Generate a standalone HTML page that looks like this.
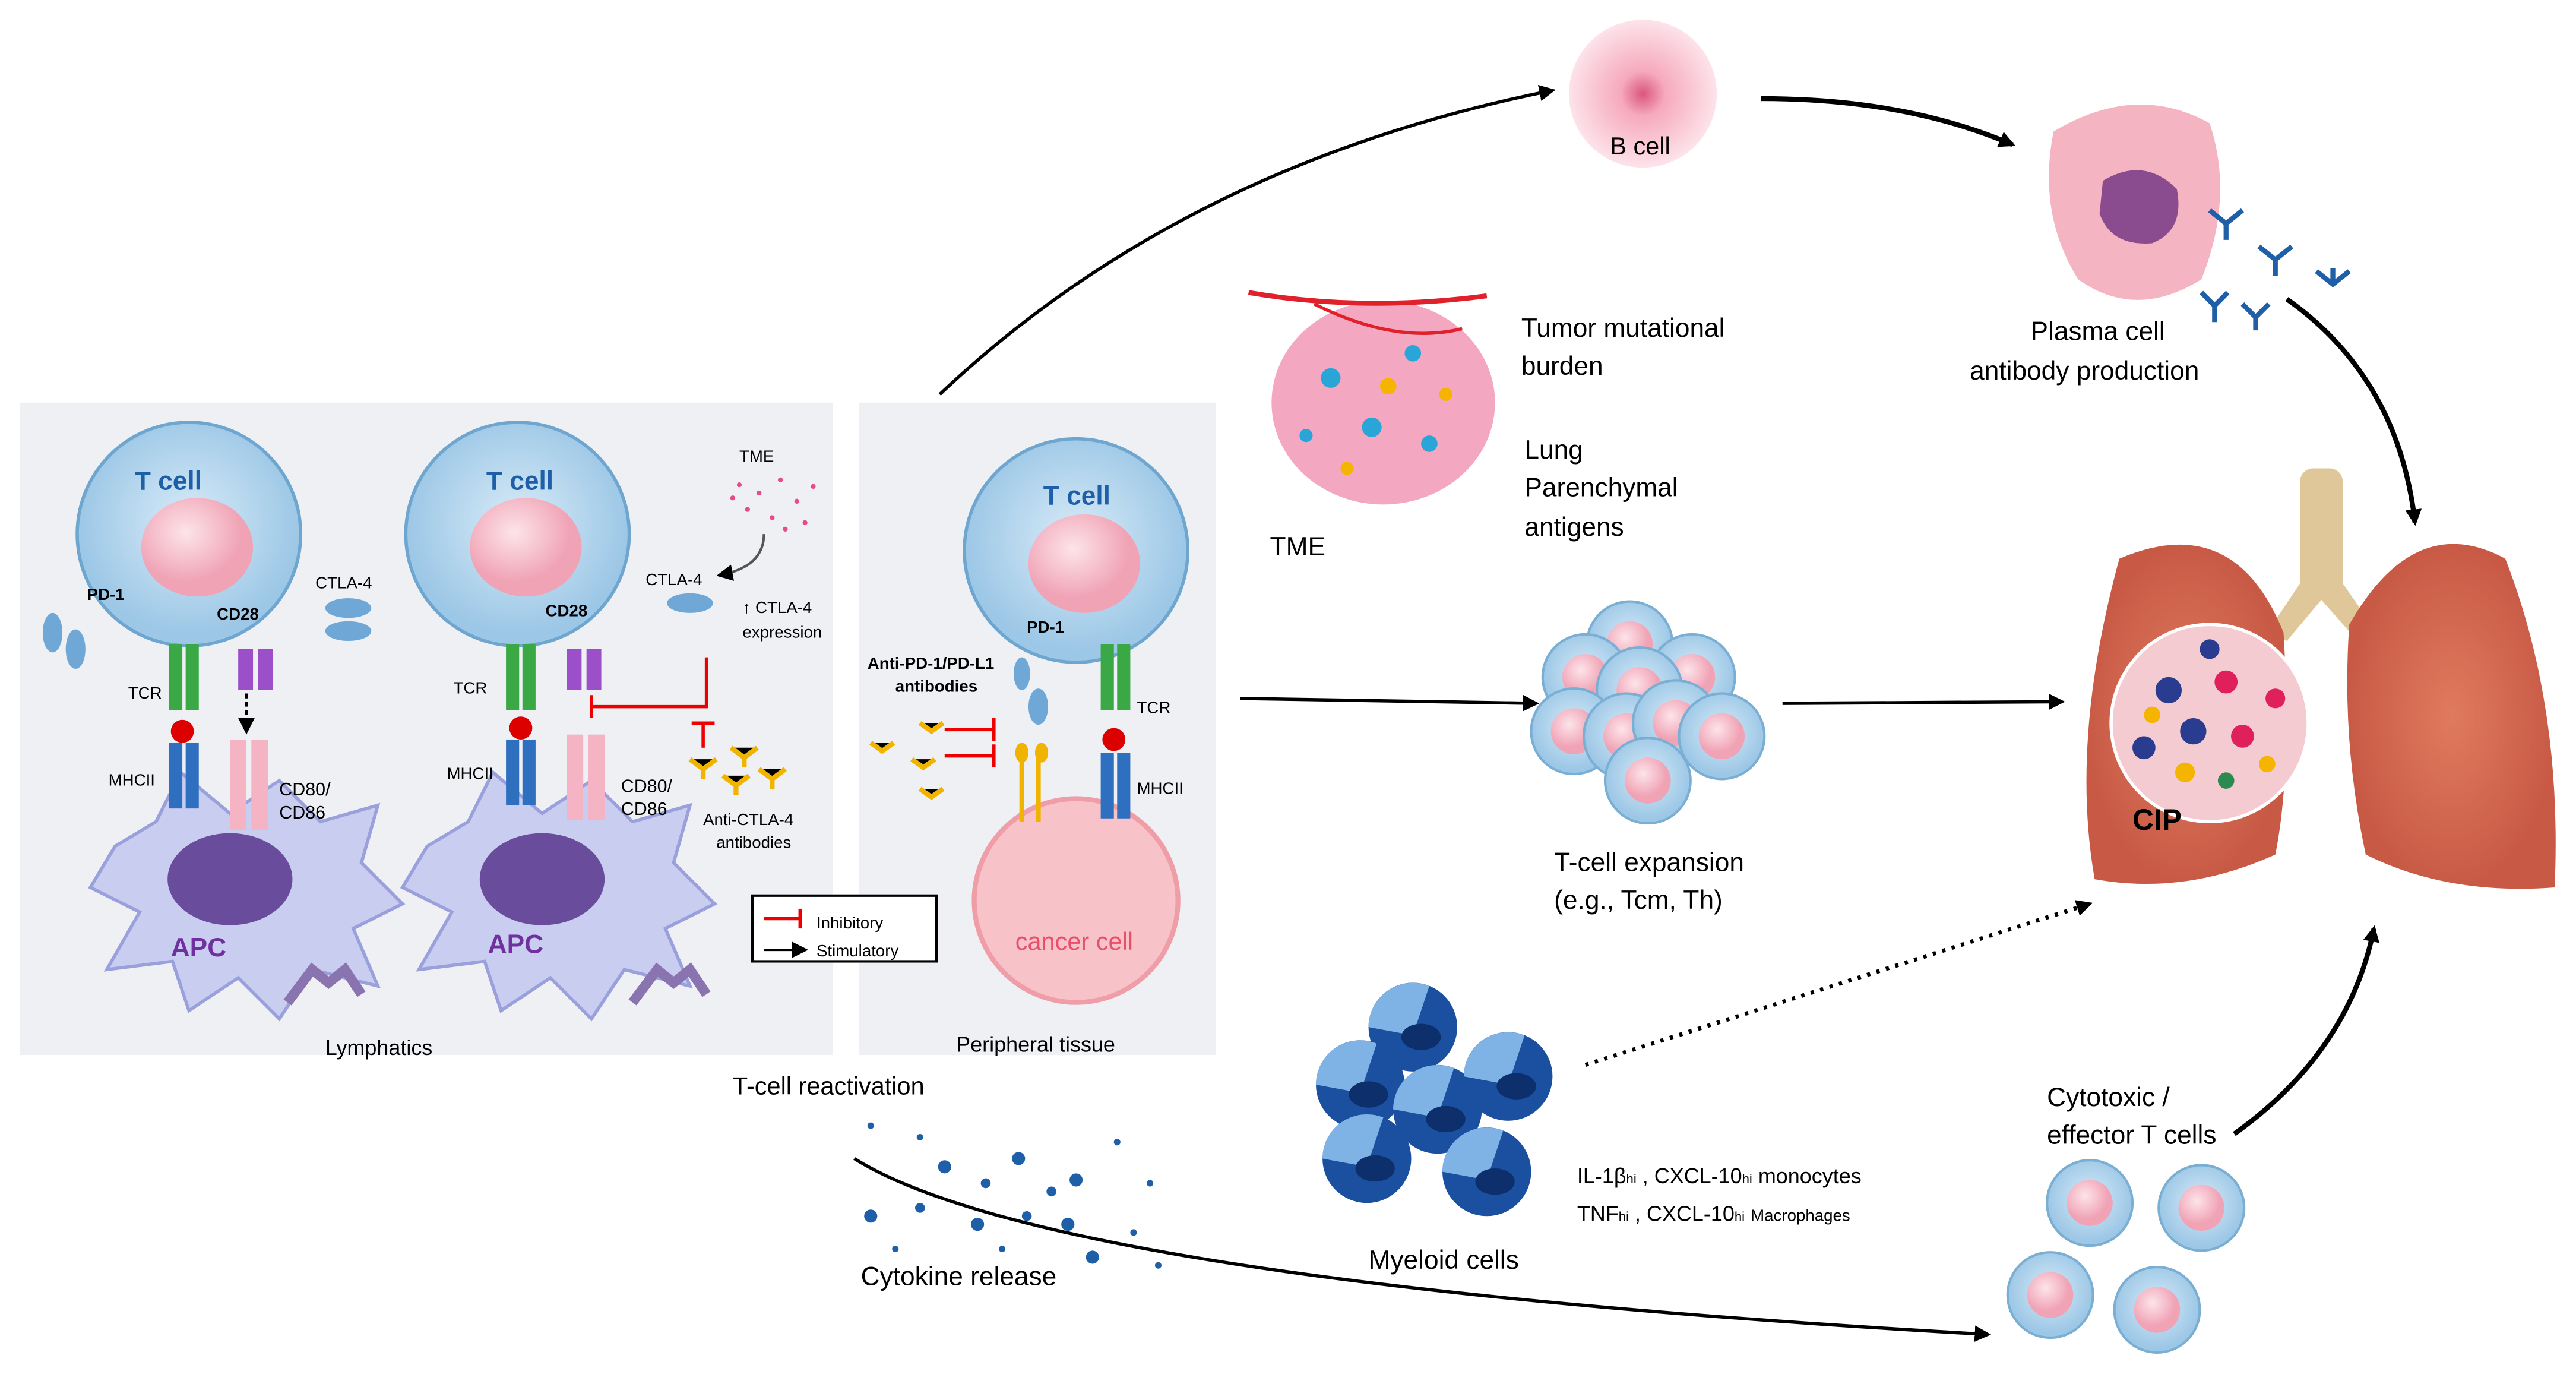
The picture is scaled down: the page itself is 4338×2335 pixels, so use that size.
<!DOCTYPE html>
<html><head><meta charset="utf-8"><style>
html,body{margin:0;padding:0;background:#fff;}
svg{display:block;}
text{font-family:"Liberation Sans",sans-serif;}
</style></head><body>
<svg width="4338" height="2335" viewBox="0 0 1568 844" preserveAspectRatio="none" xmlns="http://www.w3.org/2000/svg">
<defs>
<marker id="ah" markerWidth="10" markerHeight="10" refX="8" refY="5" orient="auto" markerUnits="userSpaceOnUse"><path d="M0,0 L10,5 L0,10 z" fill="#000"/></marker>
<radialGradient id="tc" cx="50%" cy="45%"><stop offset="0" stop-color="#d8ebf8"/><stop offset="1" stop-color="#9cc7e6"/></radialGradient>
<radialGradient id="nuc" cx="40%" cy="35%"><stop offset="0" stop-color="#fde4ea"/><stop offset="1" stop-color="#f0a3b5"/></radialGradient>
<radialGradient id="pk" cx="50%" cy="50%"><stop offset="0" stop-color="#d9567e"/><stop offset="0.3" stop-color="#f6a9bd"/><stop offset="1" stop-color="#fde3ea"/></radialGradient>
<radialGradient id="lung" cx="50%" cy="50%"><stop offset="0" stop-color="#e07a5f"/><stop offset="1" stop-color="#c85a45"/></radialGradient>
<g id="smallT"><circle r="26" fill="url(#tc)" stroke="#7aaed3" stroke-width="1.5"/><circle r="14" fill="url(#nuc)"/></g>
<g id="myel"><circle r="27" fill="#1b4fa0"/><path d="M-27,0 A27,27 0 0 1 10,-25 L0,5 Z" fill="#7fb2e5"/><ellipse cx="5" cy="6" rx="12" ry="8" fill="#0d2f6b"/></g>
<g id="apc"><path d="M-80,-30 L-55,-45 L-40,-75 L-10,-50 L20,-70 L45,-45 L80,-55 L70,-20 L95,5 L65,20 L80,55 L40,45 L20,75 L-5,50 L-35,70 L-45,40 L-85,45 L-65,10 L-95,-5 Z" fill="#c9cdf0" stroke="#9aa0dc" stroke-width="2"/><ellipse cx="-10" cy="-10" rx="38" ry="28" fill="#6a4c9c"/></g>
<g id="bigT"><circle r="68" fill="url(#tc)" stroke="#6ea6cf" stroke-width="2"/><ellipse cx="5" cy="8" rx="34" ry="30" fill="url(#nuc)"/></g>
</defs>

<!-- panels -->
<rect x="12" y="245" width="495" height="397" fill="#eef0f4"/>
<rect x="523" y="245" width="217" height="397" fill="#eef0f4"/>

<!-- left panel cell 1 -->
<use href="#apc" x="150" y="545"/>
<use href="#bigT" x="115" y="325"/>
<text x="82" y="298" font-size="16" font-weight="bold" fill="#1f5fa8">T cell</text>
<text x="53" y="365" font-size="10" font-weight="bold">PD-1</text>
<text x="132" y="377" font-size="10" font-weight="bold">CD28</text>
<text x="192" y="358" font-size="10">CTLA-4</text>
<ellipse cx="212" cy="370" rx="14" ry="6" fill="#6fa8d6"/><ellipse cx="212" cy="384" rx="14" ry="6" fill="#6fa8d6"/>
<ellipse cx="32" cy="385" rx="6" ry="12" fill="#6fa8d6"/><ellipse cx="46" cy="395" rx="6" ry="12" fill="#6fa8d6"/>
<rect x="103" y="392" width="8" height="40" fill="#3aa845"/><rect x="113" y="392" width="8" height="40" fill="#3aa845"/>
<circle cx="111" cy="445" r="7" fill="#d00"/>
<rect x="103" y="452" width="8" height="40" fill="#2f6fbf"/><rect x="113" y="452" width="8" height="40" fill="#2f6fbf"/>
<rect x="145" y="395" width="9" height="25" fill="#9b4fc8"/><rect x="157" y="395" width="9" height="25" fill="#9b4fc8"/>
<rect x="140" y="450" width="10" height="55" fill="#f4b4c4"/><rect x="153" y="450" width="10" height="55" fill="#f4b4c4"/>
<line x1="150" y1="422" x2="150" y2="445" stroke="#000" stroke-dasharray="3,2" stroke-width="1.5" marker-end="url(#ah)"/>
<text x="78" y="425" font-size="10">TCR</text>
<text x="66" y="478" font-size="10">MHCII</text>
<text x="170" y="484" font-size="11">CD80/</text><text x="170" y="498" font-size="11">CD86</text>
<text x="104" y="582" font-size="16" font-weight="bold" fill="#7030a0">APC</text>
<path d="M175,610 L190,590 L200,598 L210,590 L220,605" stroke="#8a74b0" stroke-width="6" fill="none"/>

<!-- left panel cell 2 -->
<use href="#apc" x="340" y="545"/>
<use href="#bigT" x="315" y="325"/>
<text x="296" y="298" font-size="16" font-weight="bold" fill="#1f5fa8">T cell</text>
<text x="332" y="375" font-size="10" font-weight="bold">CD28</text>
<text x="393" y="356" font-size="10">CTLA-4</text>
<ellipse cx="420" cy="367" rx="14" ry="6" fill="#6fa8d6"/>
<rect x="308" y="392" width="8" height="40" fill="#3aa845"/><rect x="318" y="392" width="8" height="40" fill="#3aa845"/>
<circle cx="317" cy="443" r="7" fill="#d00"/>
<rect x="308" y="450" width="8" height="40" fill="#2f6fbf"/><rect x="318" y="450" width="8" height="40" fill="#2f6fbf"/>
<rect x="345" y="395" width="9" height="25" fill="#9b4fc8"/><rect x="357" y="395" width="9" height="25" fill="#9b4fc8"/>
<rect x="345" y="447" width="10" height="52" fill="#f4b4c4"/><rect x="358" y="447" width="10" height="52" fill="#f4b4c4"/>
<text x="276" y="422" font-size="10">TCR</text>
<text x="272" y="474" font-size="10">MHCII</text>
<text x="378" y="482" font-size="11">CD80/</text><text x="378" y="496" font-size="11">CD86</text>
<text x="297" y="580" font-size="16" font-weight="bold" fill="#7030a0">APC</text>
<path d="M385,610 L400,590 L410,598 L420,590 L430,605" stroke="#8a74b0" stroke-width="6" fill="none"/>
<text x="450" y="281" font-size="10">TME</text>
<g fill="#e84a8a"><circle cx="450" cy="295" r="1.5"/><circle cx="462" cy="300" r="1.5"/><circle cx="475" cy="292" r="1.5"/><circle cx="485" cy="305" r="1.5"/><circle cx="455" cy="310" r="1.5"/><circle cx="470" cy="315" r="1.5"/><circle cx="490" cy="318" r="1.5"/><circle cx="478" cy="322" r="1.5"/><circle cx="446" cy="303" r="1.5"/><circle cx="495" cy="296" r="1.5"/></g>
<path d="M465,325 Q465,345 438,350" stroke="#555" fill="none" stroke-width="1.5" marker-end="url(#ah)"/>
<text x="452" y="373" font-size="10">↑ CTLA-4</text><text x="452" y="388" font-size="10">expression</text>
<path d="M430,400 L430,430 L360,430" stroke="#e00" stroke-width="2" fill="none"/><line x1="360" y1="423" x2="360" y2="437" stroke="#e00" stroke-width="2"/>
<line x1="428" y1="440" x2="428" y2="455" stroke="#e00" stroke-width="2"/><line x1="421" y1="440" x2="435" y2="440" stroke="#e00" stroke-width="2"/>
<g stroke="#f0b400" stroke-width="3"><path d="M420,462 l8,6 l8,-6 M428,468 v6"/><path d="M445,455 l8,6 l8,-6 M453,461 v6"/><path d="M440,472 l8,6 l8,-6 M448,478 v6"/><path d="M462,468 l8,6 l8,-6 M470,474 v6"/></g>
<text x="428" y="502" font-size="10">Anti-CTLA-4</text><text x="436" y="516" font-size="10">antibodies</text>
<rect x="458" y="545" width="112" height="40" fill="#fff" stroke="#000" stroke-width="1.5"/>
<line x1="465" y1="559" x2="487" y2="559" stroke="#e00" stroke-width="2"/><line x1="487" y1="553" x2="487" y2="565" stroke="#e00" stroke-width="2"/>
<text x="497" y="565" font-size="10">Inhibitory</text>
<line x1="465" y1="578" x2="490" y2="578" stroke="#000" stroke-width="1.5" marker-end="url(#ah)"/>
<text x="497" y="582" font-size="10">Stimulatory</text>
<text x="198" y="642" font-size="13">Lymphatics</text>

<!-- middle panel -->
<circle cx="655" cy="548" r="62" fill="#f7c3c8" stroke="#ef9ea8" stroke-width="3"/>
<text x="618" y="578" font-size="15" fill="#e8506a">cancer cell</text>
<use href="#bigT" x="655" y="335"/>
<text x="635" y="307" font-size="16" font-weight="bold" fill="#1f5fa8">T cell</text>
<text x="625" y="385" font-size="10" font-weight="bold">PD-1</text>
<ellipse cx="622" cy="410" rx="5" ry="10" fill="#6fa8d6"/><ellipse cx="632" cy="430" rx="6" ry="11" fill="#6fa8d6"/>
<rect x="670" y="392" width="8" height="40" fill="#3aa845"/><rect x="680" y="392" width="8" height="40" fill="#3aa845"/>
<circle cx="678" cy="450" r="7" fill="#d00"/>
<rect x="670" y="458" width="8" height="40" fill="#2f6fbf"/><rect x="680" y="458" width="8" height="40" fill="#2f6fbf"/>
<text x="692" y="434" font-size="10">TCR</text><text x="692" y="483" font-size="10">MHCII</text>
<path d="M622,460 v40 M632,460 v40" stroke="#f0b400" stroke-width="3"/>
<ellipse cx="622" cy="458" rx="4" ry="6" fill="#f0b400"/><ellipse cx="634" cy="458" rx="4" ry="6" fill="#f0b400"/>
<text x="528" y="407" font-size="10" font-weight="bold">Anti-PD-1/PD-L1</text><text x="545" y="421" font-size="10" font-weight="bold">antibodies</text>
<line x1="575" y1="444" x2="605" y2="444" stroke="#e00" stroke-width="2"/><line x1="605" y1="437" x2="605" y2="451" stroke="#e00" stroke-width="2"/>
<line x1="575" y1="460" x2="605" y2="460" stroke="#e00" stroke-width="2"/><line x1="605" y1="453" x2="605" y2="467" stroke="#e00" stroke-width="2"/>
<g stroke="#f0b400" stroke-width="3"><path d="M530,452 l7,5 l7,-5"/><path d="M560,440 l7,5 l7,-5"/><path d="M555,462 l7,5 l7,-5"/><path d="M560,480 l7,5 l7,-5"/></g>
<text x="582" y="640" font-size="13">Peripheral tissue</text>
<text x="446" y="666" font-size="15">T-cell reactivation</text>

<!-- arrows -->
<path d="M572,240 Q720,100 945,55" stroke="#000" stroke-width="2" fill="none" marker-end="url(#ah)"/>
<path d="M1072,60 Q1160,60 1225,88" stroke="#000" stroke-width="3" fill="none" marker-end="url(#ah)"/>
<path d="M1392,182 Q1460,230 1470,318" stroke="#000" stroke-width="3" fill="none" marker-end="url(#ah)"/>
<line x1="755" y1="425" x2="935" y2="428" stroke="#000" stroke-width="2" marker-end="url(#ah)"/>
<line x1="1085" y1="428" x2="1255" y2="427" stroke="#000" stroke-width="2" marker-end="url(#ah)"/>
<line x1="965" y1="648" x2="1272" y2="550" stroke="#000" stroke-width="2.5" stroke-dasharray="2,4" marker-end="url(#ah)"/>
<path d="M1360,690 Q1430,640 1445,565" stroke="#000" stroke-width="3" fill="none" marker-end="url(#ah)"/>
<path d="M520,705 Q640,780 1210,812" stroke="#000" stroke-width="2" fill="none" marker-end="url(#ah)"/>

<!-- B cell -->
<circle cx="1000" cy="57" r="45" fill="url(#pk)"/>
<text x="980" y="94" font-size="15">B cell</text>
<!-- plasma cell -->
<path d="M1250,80 Q1300,50 1345,75 Q1360,120 1340,170 Q1300,195 1265,170 Q1240,130 1250,80 Z" fill="#f4b4c2"/>
<path d="M1280,110 Q1305,95 1325,115 Q1330,140 1310,148 Q1285,150 1278,130 Z" fill="#8a4c8f"/>
<g stroke="#1f5fa8" stroke-width="3" fill="none"><path d="M1345,128 l10,8 l10,-8 M1355,136 v10"/><path d="M1375,150 l10,8 l10,-8 M1385,158 v10"/><path d="M1340,178 l8,8 l8,-8 M1348,186 v10"/><path d="M1410,165 l10,8 l10,-8 M1420,173 v-10"/><path d="M1365,185 l8,8 l8,-8 M1373,193 v8"/></g>
<text x="1236" y="207" font-size="16">Plasma cell</text>
<text x="1199" y="231" font-size="16">antibody production</text>

<!-- TME -->
<ellipse cx="842" cy="245" rx="68" ry="62" fill="#f4a7c0"/>
<g><circle cx="810" cy="230" r="6" fill="#2aa5d8"/><circle cx="860" cy="215" r="5" fill="#2aa5d8"/><circle cx="835" cy="260" r="6" fill="#2aa5d8"/><circle cx="870" cy="270" r="5" fill="#2aa5d8"/><circle cx="795" cy="265" r="4" fill="#2aa5d8"/><circle cx="845" cy="235" r="5" fill="#f5b400"/><circle cx="880" cy="240" r="4" fill="#f5b400"/><circle cx="820" cy="285" r="4" fill="#f5b400"/></g>
<path d="M760,178 Q830,190 905,180" stroke="#e0202a" stroke-width="3" fill="none"/>
<path d="M800,185 Q850,210 890,200" stroke="#e0202a" stroke-width="2" fill="none"/>
<text x="773" y="338" font-size="16">TME</text>
<text x="926" y="205" font-size="16">Tumor mutational</text><text x="926" y="228" font-size="16">burden</text>
<text x="928" y="279" font-size="16">Lung</text><text x="928" y="302" font-size="16">Parenchymal</text><text x="928" y="326" font-size="16">antigens</text>

<!-- T cell cluster -->
<use href="#smallT" x="992" y="392"/><use href="#smallT" x="965" y="412"/><use href="#smallT" x="1030" y="412"/><use href="#smallT" x="998" y="420"/><use href="#smallT" x="958" y="445"/><use href="#smallT" x="990" y="448"/><use href="#smallT" x="1020" y="440"/><use href="#smallT" x="1048" y="448"/><use href="#smallT" x="1003" y="475"/>
<text x="946" y="530" font-size="16">T-cell expansion</text>
<text x="946" y="553" font-size="16">(e.g., Tcm, Th)</text>

<!-- lungs -->
<rect x="1400" y="285" width="26" height="80" rx="8" fill="#e0c79a"/>
<path d="M1400,355 L1380,385 L1392,390 L1413,365 L1435,390 L1447,385 L1426,355 Z" fill="#e0c79a"/>
<path d="M1290,340 Q1360,310 1390,385 Q1395,470 1385,520 Q1330,545 1275,535 Q1260,450 1290,340 Z" fill="url(#lung)"/>
<path d="M1430,380 Q1470,310 1525,340 Q1560,430 1555,540 Q1490,545 1440,520 Q1425,450 1430,380 Z" fill="url(#lung)"/>
<circle cx="1345" cy="440" r="60" fill="#f3cbd0" stroke="#fff" stroke-width="2"/>
<g><circle cx="1320" cy="420" r="8" fill="#2a3c8f"/><circle cx="1355" cy="415" r="7" fill="#e0205a"/><circle cx="1335" cy="445" r="8" fill="#2a3c8f"/><circle cx="1305" cy="455" r="7" fill="#2a3c8f"/><circle cx="1365" cy="448" r="7" fill="#e0205a"/><circle cx="1385" cy="425" r="6" fill="#e0205a"/><circle cx="1330" cy="470" r="6" fill="#f5b400"/><circle cx="1355" cy="475" r="5" fill="#2a8a4f"/><circle cx="1310" cy="435" r="5" fill="#f5b400"/><circle cx="1380" cy="465" r="5" fill="#f5b400"/><circle cx="1345" cy="395" r="6" fill="#2a3c8f"/></g>
<text x="1298" y="505" font-size="18" font-weight="bold">CIP</text>

<!-- myeloid -->
<use href="#myel" x="860" y="625"/><use href="#myel" x="828" y="660"/><use href="#myel" x="875" y="675"/><use href="#myel" x="918" y="655"/><use href="#myel" x="832" y="705"/><use href="#myel" x="905" y="713"/>
<text x="833" y="772" font-size="16">Myeloid cells</text>
<text x="960" y="720" font-size="13">IL-1β<tspan font-size="8">hi</tspan> , CXCL-10<tspan font-size="8">hi</tspan> monocytes</text>
<text x="960" y="743" font-size="13">TNF<tspan font-size="8">hi</tspan> , CXCL-10<tspan font-size="8">hi</tspan> <tspan font-size="10">Macrophages</tspan></text>

<!-- cytokines -->
<g fill="#1f5fa8"><circle cx="530" cy="685" r="2"/><circle cx="560" cy="692" r="2"/><circle cx="575" cy="710" r="4"/><circle cx="600" cy="720" r="3"/><circle cx="620" cy="705" r="4"/><circle cx="640" cy="725" r="3"/><circle cx="655" cy="718" r="4"/><circle cx="595" cy="745" r="4"/><circle cx="625" cy="740" r="3"/><circle cx="650" cy="745" r="4"/><circle cx="530" cy="740" r="4"/><circle cx="560" cy="735" r="3"/><circle cx="665" cy="765" r="4"/><circle cx="690" cy="750" r="2"/><circle cx="700" cy="720" r="2"/><circle cx="545" cy="760" r="2"/><circle cx="705" cy="770" r="2"/><circle cx="610" cy="760" r="2"/><circle cx="680" cy="695" r="2"/></g>
<text x="524" y="782" font-size="16">Cytokine release</text>

<!-- cytotoxic -->
<text x="1246" y="673" font-size="16">Cytotoxic /</text>
<text x="1246" y="696" font-size="16">effector T cells</text>
<use href="#smallT" x="1272" y="732"/><use href="#smallT" x="1340" y="735"/><use href="#smallT" x="1248" y="788"/><use href="#smallT" x="1313" y="797"/>
</svg>
</body></html>
